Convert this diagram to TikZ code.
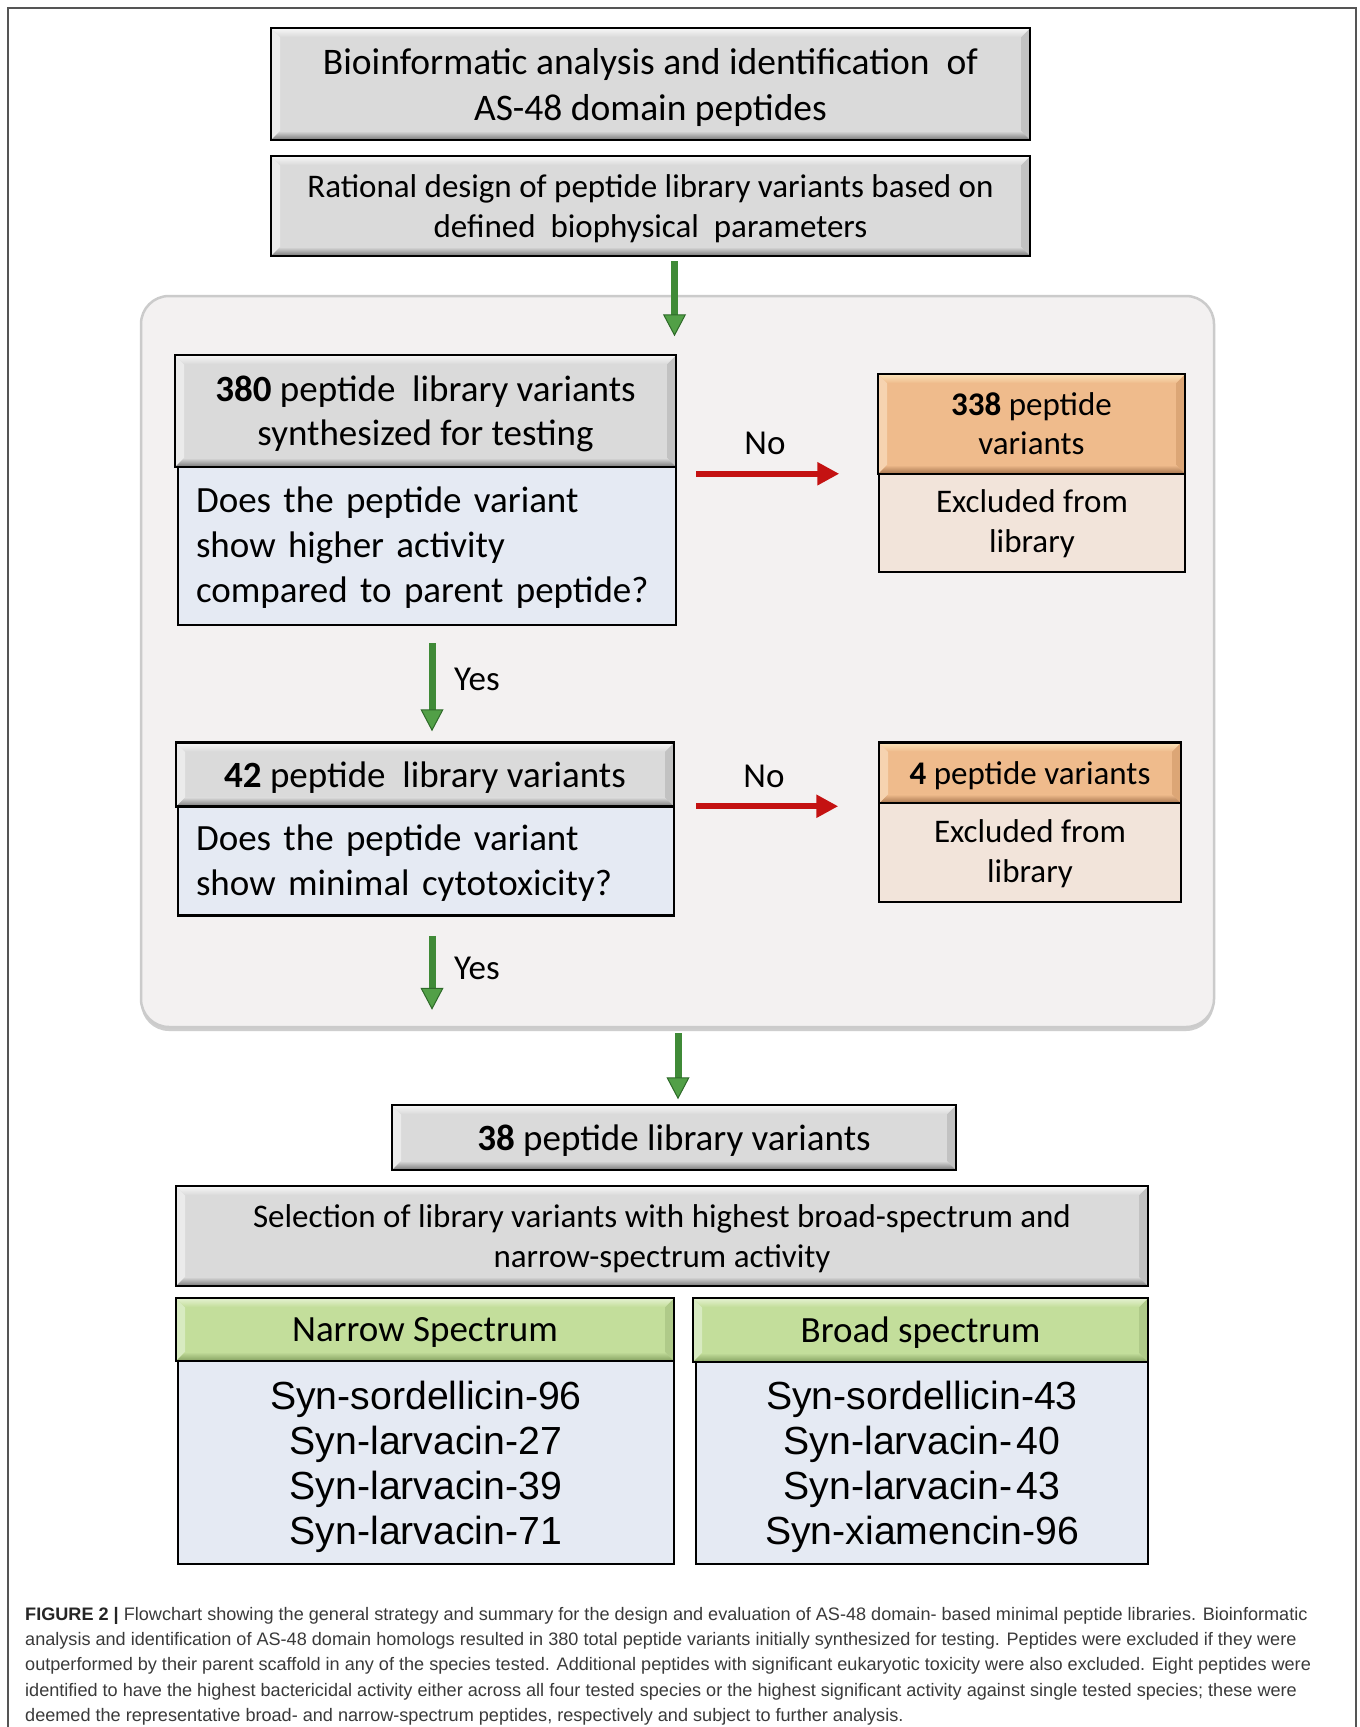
\documentclass[tikz,border=0pt]{standalone}
\usepackage{fontspec}
\setmainfont{Carlito}
\newfontfamily\arialf{Liberation Sans}
\usetikzlibrary{arrows.meta,shadows}

\definecolor{grayB}{HTML}{DADADA}
\definecolor{grayL}{HTML}{F8F8F8}
\definecolor{grayD}{HTML}{767676}
\definecolor{grayS}{HTML}{EBEBEB}
\definecolor{grayR}{HTML}{C2C2C2}
\definecolor{orB}{HTML}{EFBB8C}
\definecolor{orL}{HTML}{FCE6BC}
\definecolor{orD}{HTML}{A2704A}
\definecolor{orS}{HTML}{F6D3B0}
\definecolor{orR}{HTML}{DCA676}
\definecolor{grB}{HTML}{C3DE9B}
\definecolor{grL}{HTML}{E6F2D2}
\definecolor{grD}{HTML}{84A060}
\definecolor{grS}{HTML}{D8EBC1}
\definecolor{grR}{HTML}{AFCA89}
\definecolor{blueBody}{HTML}{E5EAF3}
\definecolor{orBody}{HTML}{F2E4DA}
\definecolor{panelF}{HTML}{F3F1F1}
\definecolor{panelD}{HTML}{CBCBCB}
\definecolor{arrG}{HTML}{3F8A37}
\definecolor{arrGh}{HTML}{52A047}
\definecolor{arrGd}{HTML}{2E6A29}
\definecolor{arrR}{HTML}{C41212}
\definecolor{capT}{HTML}{3A3A3A}
\definecolor{frameC}{HTML}{555555}

\newcommand\fsBig{\fontsize{37}{44}\selectfont}
\newcommand\fsMid{\fontsize{33}{40}\selectfont}
\newcommand\fsSyn{\arialf\fontsize{39.2}{45}\selectfont}
\newcommand\fsCap{\arialf\fontsize{18.1}{25.3}\selectfont}

\tikzset{
  bevel/.style n args={5}{fill=#1, draw=black, line width=2.5pt,
    path picture={
      \coordinate (bvnw) at (path picture bounding box.north west);
      \coordinate (bvne) at (path picture bounding box.north east);
      \coordinate (bvse) at (path picture bounding box.south east);
      \coordinate (bvsw) at (path picture bounding box.south west);
      \coordinate (bvinw) at ([xshift=9pt,yshift=-9pt]bvnw);
      \coordinate (bvine) at ([xshift=-9pt,yshift=-9pt]bvne);
      \coordinate (bvise) at ([xshift=-9pt,yshift=9pt]bvse);
      \coordinate (bvisw) at ([xshift=9pt,yshift=9pt]bvsw);
      \fill[#4] (bvnw) -- (bvinw) -- (bvisw) -- (bvsw) -- cycle;
      \fill[#5] (bvne) -- (bvine) -- (bvise) -- (bvse) -- cycle;
      \shade[top color=#2, bottom color=#1] (bvnw) -- (bvne) -- (bvine) -- (bvinw) -- cycle;
      \shade[top color=#1, bottom color=#3] (bvisw) -- (bvise) -- (bvse) -- (bvsw) -- cycle;
    }},
  sz/.style 2 args={minimum width=#1pt, minimum height=#2pt},
  grayhdr/.style={bevel={grayB}{grayL}{grayD}{grayS}{grayR}, align=center, inner sep=0pt, text=black, text depth=0pt},
  orhdr/.style={bevel={orB}{orL}{orD}{orS}{orR}, align=center, inner sep=0pt, text=black, text depth=0pt},
  grhdr/.style={bevel={grB}{grL}{grD}{grS}{grR}, align=center, inner sep=0pt, text=black, text depth=0pt},
  bluebody/.style={fill=blueBody, draw=black, line width=2.5pt, inner sep=0pt},
  orbody/.style={fill=orBody, draw=black, line width=2.5pt, inner sep=0pt, align=center, text depth=3pt},
  panelbox/.style={fill=panelF, draw=panelD, line width=2.5pt, rounded corners=28pt,
    drop shadow={shadow xshift=0pt, shadow yshift=-4pt, opacity=0.35, fill=black!55}},
  garrow/.style={draw=arrG, line width=7pt,
    -{Triangle[width=23pt,length=22pt,fill=arrGh,color=arrGd,line width=1pt]}},
  rarrow/.style={draw=arrR, line width=6pt,
    -{Triangle[width=22pt,length=22pt,fill=arrR,color=arrR]}},
  lbl/.style={font=\fontsize{35}{42}\selectfont, inner sep=0pt, text=black},
}

\begin{document}
\begin{tikzpicture}[x=1pt, y=-1pt]
\useasboundingbox (0,0) rectangle (1360,1727);
\fill[white] (0,0) rectangle (1360,1727);

% outer frame
\draw[frameC, line width=1.3pt] (8,1727) -- (8,8) -- (1356,8) -- (1356,1727);

% panel
\node[panelbox, sz={1073}{731}] (panel) at (677.5,661.5) {};

% top boxes
\node[grayhdr, sz={759}{112}, font=\fontsize{37.5}{46}\selectfont] (b1) at (650.5,84)
  {Bioinformatic analysis and identification\ \ of\\AS-48 domain peptides};
\node[grayhdr, sz={759}{100}, font=\fontsize{33}{40.5}\selectfont] (b2) at (650.5,206)
  {Rational design of peptide library variants based on\\defined\ \ biophysical\ \ parameters};

% 380 block
\node[grayhdr, sz={501}{112}, font=\fsBig] (n380h) at (425.5,411)
  {\textbf{380} peptide\ \ library variants\\synthesized for testing};
\node[bluebody, sz={498}{158}, text width=462pt, inner xsep=18pt, align=left, text depth=93pt, font=\fontsize{37}{45}\selectfont] (n380b) at (427,546)
  {Does the peptide variant\\show higher activity\\compared to parent peptide?};

% 338 block
\node[orhdr, sz={307}{100}, font=\fontsize{33}{39}\selectfont] (n338h) at (1031.5,424)
  {\textbf{338} peptide\\variants};
\node[orbody, sz={306}{98}, font=\fsMid] (n338b) at (1032,523)
  {Excluded from\\library};

% 42 block
\node[grayhdr, sz={498}{64}, font=\fsBig] (n42h) at (425,774.5)
  {\textbf{42} peptide\ \ library variants};
\node[bluebody, sz={496}{109}, text width=460pt, inner xsep=18pt, align=left, text depth=46pt, font=\fontsize{37}{45}\selectfont] (n42b) at (426,861)
  {Does the peptide variant\\show minimal cytotoxicity?};

% 4 block
\node[orhdr, sz={302}{61}, font=\fsMid] (n4h) at (1030,773)
  {\textbf{4} peptide variants};
\node[orbody, sz={302}{99}, font=\fsMid] (n4b) at (1030,852.5)
  {Excluded from\\library};

% labels
\node[lbl] (no1) at (765,443) {No};
\node[lbl] (no2) at (764,776) {No};
\node[lbl] (yes1) at (477,679) {Yes};
\node[lbl] (yes2) at (477,968) {Yes};

% lower boxes
\node[grayhdr, sz={564}{65}, font=\fsBig] (b38) at (674,1137.5)
  {\textbf{38} peptide library variants};
\node[grayhdr, sz={972}{100}, font=\fsMid] (sel) at (662,1236)
  {Selection of library variants with highest broad-spectrum and\\narrow-spectrum activity};
\node[grhdr, sz={498}{63}, font=\fsBig] (nh) at (425,1329.5) {Narrow Spectrum};
\node[bluebody, sz={496}{203}, align=center, text depth=0pt, font=\fsSyn] (nb) at (426,1462.5)
  {Syn-sordellicin-96\\Syn-larvacin-27\\Syn-larvacin-39\\Syn-larvacin-71};
\node[grhdr, sz={455}{64}, font=\fsBig] (bh) at (920.5,1330) {Broad spectrum};
\node[bluebody, sz={452}{202}, align=center, text depth=0pt, font=\fsSyn] (bb) at (922,1463)
  {Syn-sordellicin-43\\Syn-larvacin-\hspace{4pt}40\\Syn-larvacin-\hspace{4pt}43\\Syn-xiamencin-96};

% arrows
\draw[garrow] (b2.south) ++(24,4) -- ++(0,75);
\draw[garrow] (n380b.south) ++(5,17) -- ++(0,88);
\draw[garrow] (n42b.south) ++(6,19) -- ++(0,74);
\draw[garrow] (panel.south) ++(0.5,5) -- ++(0,66);
\draw[rarrow] (n380b.north east) ++(19,8) -- ++(143,0);
\draw[rarrow] (n42b.north east) ++(21,1) -- ++(142,0);

% caption
\node[anchor=north west, inner sep=0pt, align=left, font=\fsCap, text=capT] (cap) at (25,1607)
  {{\color{black!85}\textbf{FIGURE 2 |}} Flowchart showing the general strategy and summary for the design and evaluation of AS-48 domain- based minimal peptide libraries. Bioinformatic\\
analysis and identification of AS-48 domain homologs resulted in 380 total peptide variants initially synthesized for testing. Peptides were excluded if they were\\
outperformed by their parent scaffold in any of the species tested. Additional peptides with significant eukaryotic toxicity were also excluded. Eight peptides were\\
identified to have the highest bactericidal activity either across all four tested species or the highest significant activity against single tested species; these were\\
deemed the representative broad- and narrow-spectrum peptides, respectively and subject to further analysis.};
\end{tikzpicture}
\end{document}
